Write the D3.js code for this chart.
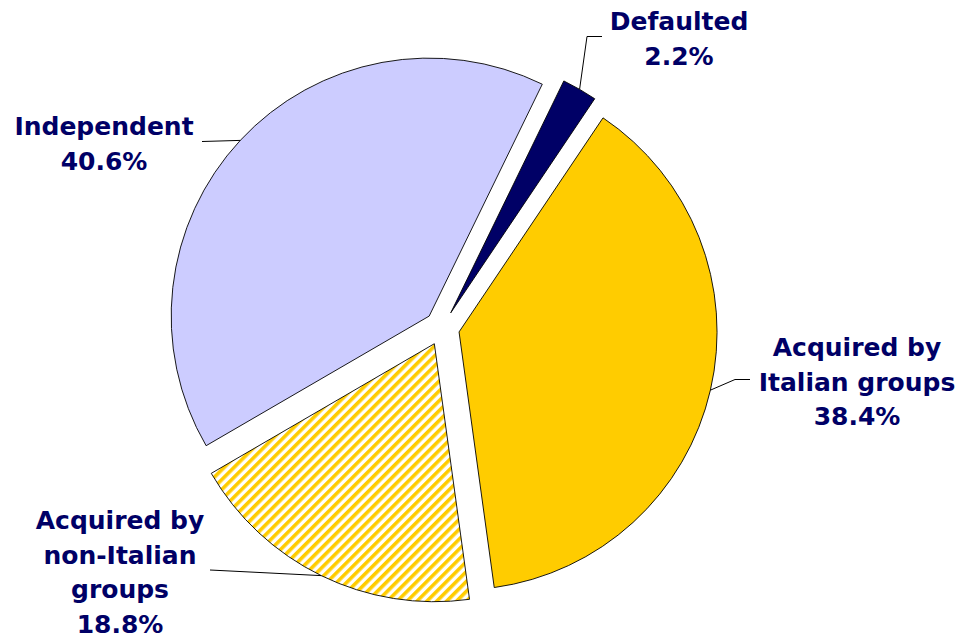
<!DOCTYPE html>
<html>
<head>
<meta charset="utf-8">
<script src="https://cdn.jsdelivr.net/npm/d3@7"></script>
<style>
  body { margin: 0; background: #fff; }
  svg { display: block; }
</style>
</head>
<body>
<svg id="chart"></svg>
<script>
var width = 962;
var height = 639;

// Data (clockwise from the Defaulted slice)
var categories = ['Defaulted', 'Acquired by Italian groups', 'Acquired by non-Italian groups', 'Independent'];
var shares = [2.2, 38.4, 18.8, 40.6];
var labelLines = [
  ['Defaulted', '2.2%'],
  ['Acquired by', 'Italian groups', '38.4%'],
  ['Acquired by', 'non-Italian', 'groups', '18.8%'],
  ['Independent', '40.6%']
];

// Layout
var center = {x: 442, y: 328};
var radius = 258;
var explode = 17.5;
var lineHeight = 34.5;
var fills = ['#000066', '#ffcc00', 'url(#hatch)', '#ccccff'];
// text anchor (centre x, first baseline) and leader path after the slice edge point
var labelPos = [
  {x: 679, y: 30, leader: [[587, 36.5], [602, 36.5]]},
  {x: 857, y: 356, leader: [[735, 379.5], [750, 379.5]]},
  {x: 120, y: 529, leader: [[210, 570]]},
  {x: 104, y: 135, leader: [[202, 141.5]]}
];

var svg = d3.select('#chart')
  .attr('width', width)
  .attr('height', height);

// Hatched fill for the non-Italian slice
var pattern = svg.append('defs').append('pattern')
  .attr('id', 'hatch')
  .attr('patternUnits', 'userSpaceOnUse')
  .attr('width', 7)
  .attr('height', 7)
  .attr('patternTransform', 'rotate(45)');
pattern.append('rect')
  .attr('width', 7).attr('height', 7).attr('fill', '#fff');
pattern.append('rect')
  .attr('width', 3.6).attr('height', 7).attr('fill', '#ffcc00');

var pie = d3.pie()
  .sort(null)
  .startAngle(26 * Math.PI / 180)
  .endAngle(26 * Math.PI / 180 + 2 * Math.PI);

var arc = d3.arc()
  .innerRadius(0)
  .outerRadius(radius);

var arcs = pie(shares);

function offset(d, r) {
  var a = (d.startAngle + d.endAngle) / 2;
  return [Math.sin(a) * r, -Math.cos(a) * r];
}

var g = svg.append('g')
  .attr('transform', 'translate(' + center.x + ',' + center.y + ')');

g.selectAll('path.slice')
  .data(arcs)
  .enter().append('path')
    .attr('class', 'slice')
    .attr('transform', function(d) { var o = offset(d, explode); return 'translate(' + o[0] + ',' + o[1] + ')'; })
    .attr('d', arc)
    .attr('fill', function(d, i) { return fills[i]; })
    .attr('stroke', '#000')
    .attr('stroke-width', 0.9);

// Leader lines: from the outer edge of each slice's bisector to the label
var line = d3.line();
svg.append('g')
  .selectAll('path')
  .data(arcs)
  .enter().append('path')
    .attr('d', function(d, i) {
      var o = offset(d, explode + radius);
      var start = [center.x + o[0], center.y + o[1]];
      return line([start].concat(labelPos[i].leader));
    })
    .attr('fill', 'none')
    .attr('stroke', '#000')
    .attr('stroke-width', 1);

// Labels
var labels = svg.append('g')
  .attr('font-family', '"DejaVu Sans", Verdana, sans-serif')
  .attr('font-weight', 'bold')
  .attr('font-size', 25)
  .attr('fill', '#000066')
  .attr('text-anchor', 'middle')
  .selectAll('text')
  .data(categories)
  .enter().append('text')
    .attr('x', function(d, i) { return labelPos[i].x; })
    .attr('y', function(d, i) { return labelPos[i].y; });

labels.selectAll('tspan')
  .data(function(d, i) { return labelLines[i].map(function(t, j) { return {t: t, j: j, i: i}; }); })
  .enter().append('tspan')
    .attr('x', function(d) { return labelPos[d.i].x; })
    .attr('y', function(d) { return labelPos[d.i].y + d.j * lineHeight; })
    .text(function(d) { return d.t; });
</script>
</body>
</html>
